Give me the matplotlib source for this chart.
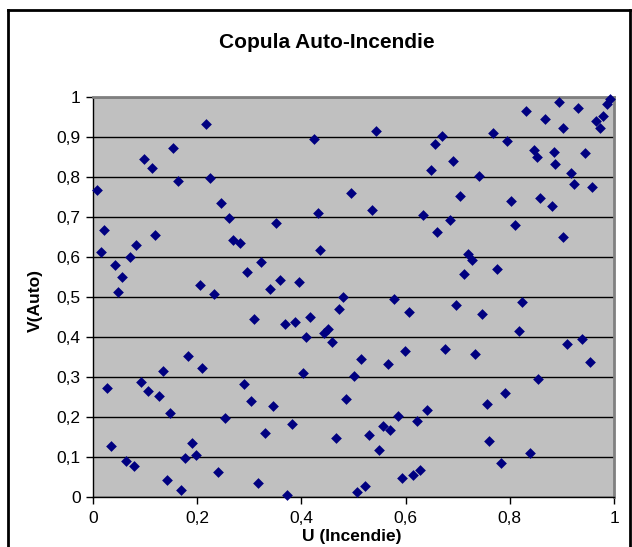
import matplotlib
matplotlib.use("Agg")
import matplotlib.pyplot as plt
from matplotlib.ticker import FuncFormatter, MultipleLocator
from matplotlib.lines import Line2D

plt.rcParams['font.family'] = ['Liberation Sans', 'DejaVu Sans']

title = "Copula Auto-Incendie"
xlabel = "U (Incendie)"
ylabel = "V(Auto)"

u = [0.2178, 0.154, 0.0987, 0.114, 0.225, 0.163, 0.007, 0.245, 0.261, 0.0206,
     0.119, 0.268, 0.282, 0.083, 0.0148, 0.0705, 0.323, 0.043, 0.2965, 0.0565,
     0.205, 0.048, 0.2325,
     0.5425, 0.4233, 0.656, 0.6486, 0.4943, 0.431, 0.5347, 0.634, 0.352, 0.6607,
     0.436, 0.359, 0.339, 0.395, 0.479, 0.578,
     0.894, 0.992, 0.986, 0.831, 0.930, 0.8667, 0.9797, 0.9655, 0.902, 0.973,
     0.669, 0.7676, 0.795, 0.846, 0.8515, 0.884, 0.945, 0.6914, 0.8867, 0.740,
     0.9174, 0.9226, 0.958, 0.705, 0.803, 0.8585, 0.8815, 0.6845, 0.8105, 0.902,
     0.7196, 0.7267, 0.7113, 0.775, 0.823,
     0.309, 0.1825, 0.210, 0.134, 0.2895, 0.0916, 0.0276, 0.1064, 0.1268, 0.304,
     0.1473, 0.2535, 0.330, 0.0353, 0.190, 0.1978, 0.1767, 0.0634, 0.0787, 0.2408,
     0.1415, 0.317, 0.1698,
     0.4713, 0.6057, 0.3676, 0.388, 0.4156, 0.4507, 0.4437, 0.408, 0.4584, 0.598,
     0.514, 0.5654, 0.4033, 0.501, 0.486, 0.345, 0.6415, 0.585, 0.381, 0.621,
     0.5575, 0.570, 0.5295, 0.4661, 0.5492, 0.628, 0.6134, 0.593, 0.5217, 0.507,
     0.3726,
     0.6965, 0.747, 0.818, 0.676, 0.7325, 0.909, 0.938, 0.953, 0.8535, 0.7907,
     0.7555, 0.760, 0.8387, 0.783]

v = [0.933, 0.872, 0.846, 0.823, 0.797, 0.790, 0.767, 0.734, 0.698, 0.668,
     0.655, 0.642, 0.635, 0.629, 0.6125, 0.599, 0.5866, 0.579, 0.5625, 0.549,
     0.530, 0.513, 0.5066,
     0.916, 0.896, 0.882, 0.8166, 0.761, 0.711, 0.7175, 0.704, 0.684, 0.6616,
     0.618, 0.5425, 0.520, 0.5366, 0.5007, 0.4957,
     0.988, 0.996, 0.9816, 0.965, 0.9725, 0.945, 0.9525, 0.939, 0.9225, 0.9215,
     0.903, 0.909, 0.890, 0.8668, 0.849, 0.863, 0.860, 0.840, 0.833, 0.803,
     0.811, 0.783, 0.7746, 0.753, 0.741, 0.748, 0.728, 0.6915, 0.679, 0.649,
     0.6066, 0.5925, 0.5567, 0.569, 0.487,
     0.444, 0.3516, 0.3216, 0.315, 0.2816, 0.288, 0.2725, 0.2657, 0.2516, 0.239,
     0.209, 0.1966, 0.159, 0.1275, 0.134, 0.104, 0.0975, 0.0908, 0.0783, 0.0616,
     0.0416, 0.035, 0.018,
     0.470, 0.4633, 0.4316, 0.4375, 0.4508, 0.4208, 0.4096, 0.401, 0.3883, 0.365,
     0.345, 0.3316, 0.309, 0.3016, 0.2458, 0.2266, 0.2166, 0.2025, 0.183, 0.190,
     0.1766, 0.1666, 0.154, 0.147, 0.1175, 0.0675, 0.055, 0.0475, 0.0275, 0.0125,
     0.005,
     0.480, 0.4566, 0.414, 0.3708, 0.3583, 0.3816, 0.395, 0.3383, 0.2958, 0.259,
     0.2325, 0.140, 0.111, 0.085]

W, H = 632, 547
fig = plt.figure(figsize=(W / 100, H / 100), dpi=100)
fig.patch.set_facecolor('white')

# outer chart border (Excel style)
for xs, ys in [([8 / W, 8 / W], [0, 1 - 10 / H]),
               ([8 / W, 630 / W], [1 - 10 / H, 1 - 10 / H]),
               ([630 / W, 630 / W], [0, 1 - 10 / H])]:
    fig.add_artist(Line2D(xs, ys, color='black', lw=2, transform=fig.transFigure))

L, R, T, B = 93, 614, 97, 497
ax = fig.add_axes([L / W, 1 - B / H, (R - L) / W, (B - T) / H])
ax.set_facecolor('#C0C0C0')
ax.set_xlim(0, 1)
ax.set_ylim(0, 1)

ax.yaxis.set_major_locator(MultipleLocator(0.1))
ax.xaxis.set_major_locator(MultipleLocator(0.2))
ax.grid(axis='y', color='black', lw=1)
ax.set_axisbelow(True)

ax.scatter(u, v, marker='D', s=30, color='#000080', linewidths=0, zorder=3, clip_on=False)

fmt = FuncFormatter(lambda val, pos: ('%g' % round(val, 2)).replace('.', ','))
ax.xaxis.set_major_formatter(fmt)
ax.yaxis.set_major_formatter(fmt)
ax.tick_params(axis='both', labelsize=12.5, length=5, width=1, color='black', direction='out')
ax.tick_params(axis='x', pad=5)
ax.tick_params(axis='y', pad=4)

for s in ['left', 'bottom']:
    ax.spines[s].set_color('black')
    ax.spines[s].set_linewidth(1)
for s in ['top', 'right']:
    ax.spines[s].set_color('#808080')
    ax.spines[s].set_linewidth(2)

fig.text(327 / W, 1 - 42 / H, title, ha='center', va='center', fontsize=15, fontweight='bold')
fig.text(352 / W, 1 - 536 / H, xlabel, ha='center', va='center', fontsize=12.5, fontweight='bold')
fig.text(35 / W, 1 - 300 / H, ylabel, ha='center', va='center', fontsize=12.5, fontweight='bold', rotation=90)

fig.savefig('out.png', dpi=100)
